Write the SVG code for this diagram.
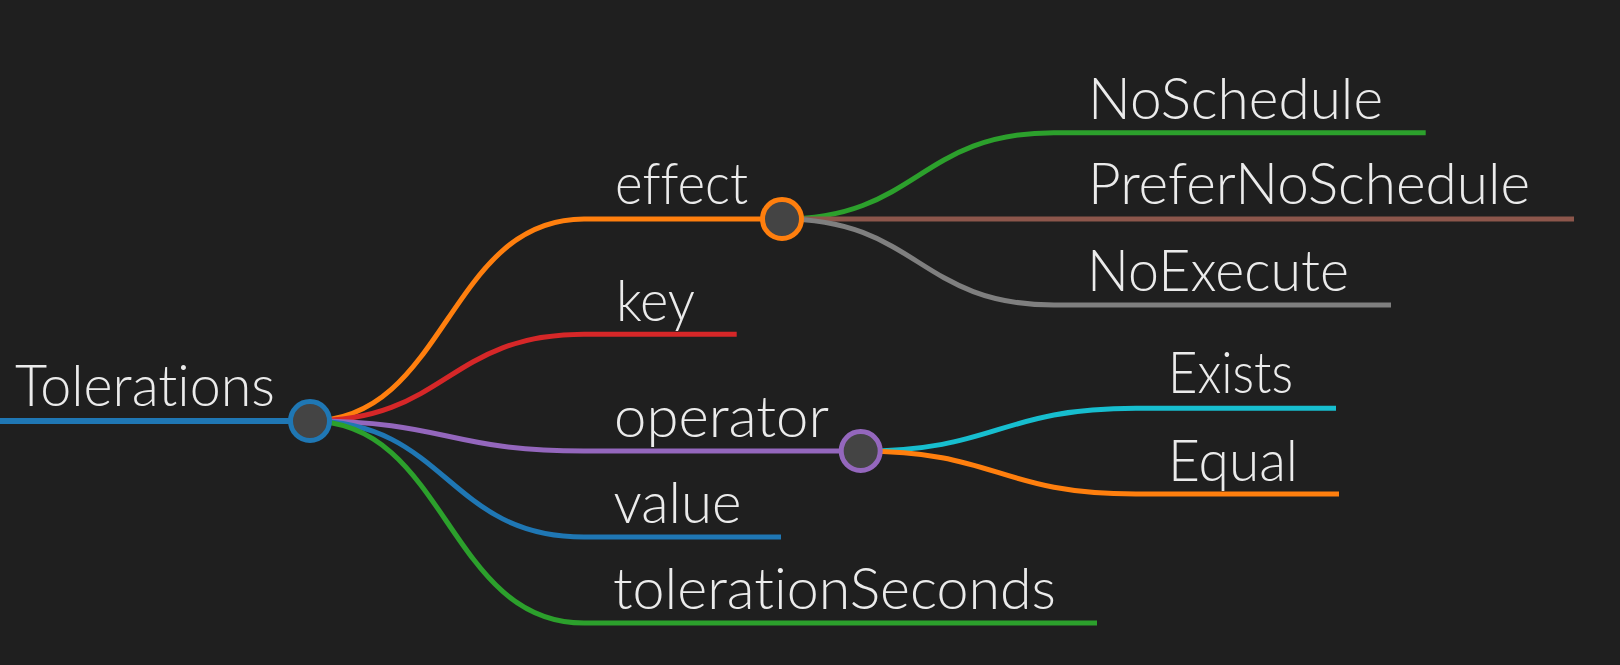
<svg xmlns="http://www.w3.org/2000/svg" width="1620" height="665" viewBox="0 0 1620 665">
<style>
.bg{fill:#1f1f1f}
.lk{fill:none;stroke-width:5;stroke-linecap:butt}
.t{font-family:Lato,"Open Sans","Liberation Sans",sans-serif;font-weight:300;font-size:58px;fill:#ebebeb;font-variant-ligatures:none;font-feature-settings:"liga" 0,"clig" 0,"dlig" 0}
.c{fill:#444444;stroke-width:5}
</style>
<rect class="bg" x="0" y="0" width="1620" height="665"/>
<g id="connectors">
<path class="lk" stroke="#1f77b4" style="stroke-width:6" d="M0 421 H310"/>
<path class="lk" stroke="#ff7f0e" d="M310 421 C447 421 447 219 584 219 H782"/>
<path class="lk" stroke="#d62728" d="M310 421 C447 421 447 334.3 584 334.3 H736.7"/>
<path class="lk" stroke="#9467bd" d="M310 421 C447 421 447 451 584 451 H860.7"/>
<path class="lk" stroke="#1f77b4" d="M310 421 C447 421 447 537 584 537 H781"/>
<path class="lk" stroke="#2ca02c" d="M310 421 C447 421 447 623 584 623 H1097"/>
<path class="lk" stroke="#2ca02c" d="M782 219 C918 219 918 132.7 1054 132.7 H1425.7"/>
<path class="lk" stroke="#8c564b" d="M782 219 H1574"/>
<path class="lk" stroke="#7f7f7f" d="M782 219 C918 219 918 305 1054 305 H1391"/>
<path class="lk" stroke="#17becf" d="M860.7 451 C998 451 998 408.3 1136 408.3 H1336"/>
<path class="lk" stroke="#ff7f0e" d="M860.7 451 C998 451 998 494 1136 494 H1339"/>
</g>
<g id="node-tolerations">
<circle class="c" stroke="#1f77b4" cx="310" cy="421" r="19.5"/>
<text class="t" x="15" y="406" textLength="260" lengthAdjust="spacingAndGlyphs">Tolerations</text>
</g>
<g id="node-effect">
<circle class="c" stroke="#ff7f0e" cx="782" cy="219" r="19.5"/>
<text class="t" x="615" y="204" textLength="133" lengthAdjust="spacingAndGlyphs">effect</text>
</g>
<g id="node-key">
<text class="t" x="616" y="320.5" textLength="79" lengthAdjust="spacingAndGlyphs">key</text>
</g>
<g id="node-operator">
<circle class="c" stroke="#9467bd" cx="860.7" cy="451" r="19.5"/>
<text class="t" x="614" y="436.5" textLength="215" lengthAdjust="spacingAndGlyphs">operator</text>
</g>
<g id="node-value">
<text class="t" x="613.5" y="522.5" textLength="128" lengthAdjust="spacingAndGlyphs">value</text>
</g>
<g id="node-tolerationSeconds">
<text class="t" x="613" y="608.5" textLength="443" lengthAdjust="spacingAndGlyphs">tolerationSeconds</text>
</g>
<g id="node-NoSchedule">
<text class="t" x="1088" y="119" textLength="295" lengthAdjust="spacingAndGlyphs">NoSchedule</text>
</g>
<g id="node-PreferNoSchedule">
<text class="t" x="1088" y="204" textLength="442" lengthAdjust="spacingAndGlyphs">PreferNoSchedule</text>
</g>
<g id="node-NoExecute">
<text class="t" x="1087" y="290.5" textLength="262" lengthAdjust="spacingAndGlyphs">NoExecute</text>
</g>
<g id="node-Exists">
<text class="t" x="1168" y="393" textLength="125" lengthAdjust="spacingAndGlyphs">Exists</text>
</g>
<g id="node-Equal">
<text class="t" x="1168" y="480.5" textLength="130" lengthAdjust="spacingAndGlyphs">Equal</text>
</g>
</svg>
